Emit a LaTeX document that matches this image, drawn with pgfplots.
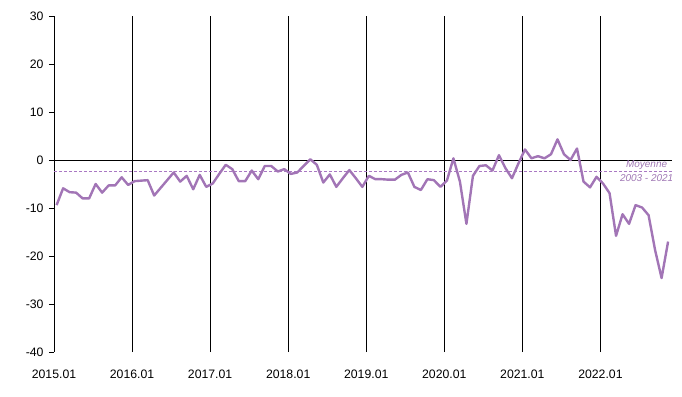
\documentclass[border=0pt]{standalone}
\usepackage{fontspec}
\setmainfont{Liberation Sans}
\usepackage{pgfplots}
\pgfplotsset{compat=1.18}
\definecolor{serie}{RGB}{162,117,182}
\definecolor{moy}{RGB}{160,120,180}
\definecolor{moyline}{RGB}{170,120,195}
\pgfplotstableread{
x y
0.4 -9.4
1.4 -5.9
2.4 -6.7
3.4 -6.8
4.4 -8.0
5.4 -8.0
6.4 -5.0
7.4 -6.8
8.4 -5.3
9.4 -5.3
10.4 -3.6
11.4 -5.2
12.4 -4.4
13.4 -4.3
14.4 -4.2
15.4 -7.4
16.4 -5.8
17.4 -4.2
18.4 -2.6
19.4 -4.5
20.4 -3.3
21.4 -6.1
22.4 -3.1
23.4 -5.6
24.4 -4.9
25.4 -2.9
26.4 -1.0
27.4 -1.9
28.4 -4.4
29.4 -4.4
30.4 -2.2
31.4 -4.0
32.4 -1.25
33.4 -1.25
34.4 -2.4
35.4 -1.9
36.4 -2.9
37.4 -2.6
38.4 -1.2
39.4 0.15
40.4 -1.0
41.4 -4.7
42.4 -3.0
43.4 -5.6
44.4 -3.8
45.4 -2.1
46.4 -3.8
47.4 -5.6
48.4 -3.3
49.4 -4.0
50.4 -4.0
51.4 -4.1
52.4 -4.1
53.4 -3.1
54.4 -2.6
55.4 -5.6
56.4 -6.25
57.4 -4.0
58.4 -4.2
59.4 -5.6
60.4 -4.3
61.4 0.35
62.4 -4.5
63.4 -13.3
64.4 -3.3
65.4 -1.25
66.4 -1.1
67.4 -2.2
68.4 1.0
69.4 -1.7
70.4 -3.8
71.4 -0.7
72.4 2.2
73.4 0.35
74.4 0.8
75.4 0.35
76.4 1.2
77.4 4.3
78.4 1.2
79.4 0.0
80.4 2.4
81.4 -4.5
82.4 -5.7
83.4 -3.5
84.4 -4.9
85.4 -6.9
86.4 -15.8
87.4 -11.3
88.4 -13.3
89.4 -9.4
90.4 -9.9
91.4 -11.5
92.4 -18.75
93.4 -24.6
94.4 -17.0
}\datatable
\begin{document}
\begin{tikzpicture}
\begin{axis}[
  at={(0,0)}, anchor=south west,
  scale only axis, width=618bp, height=336bp,
  xmin=0, xmax=95, ymin=-40, ymax=30,
  axis line style={draw=none},
  ytick={-40,-30,...,30},
  ytick pos=left, tick align=outside,
  major tick length=5bp,
  ytick style={black, line width=0.75bp},
  xtick={0,12,24,36,48,60,72,84},
  xticklabels={2015.01,2016.01,2017.01,2018.01,2019.01,2020.01,2021.01,2022.01},
  xtick pos=bottom,
  xtick style={draw=none},
  xmajorgrids,
  grid style={black, line width=0.75bp},
  ticklabel style={font=\fontsize{12.3}{14}\selectfont, text=black},
  /pgf/number format/assume math mode=true,
  xticklabel style={yshift=-9bp},
  yticklabel style={xshift=-2bp},
]
\draw[black, line width=0.75bp] (axis cs:0,0) -- (axis cs:95,0);
\draw[moyline, line width=0.8bp, dash pattern=on 3bp off 2bp] (axis cs:0,-2.3) -- (axis cs:95,-2.3);
\addplot[serie, line width=2.4bp, line join=round, mark=none] table[x=x,y=y] {\datatable};
\node[text=moy, font=\fontsize{10}{12}\selectfont\itshape, inner sep=0pt] at (axis cs:91.1,-1.0) {Moyenne};
\node[text=moy, font=\fontsize{10}{12}\selectfont\itshape, inner sep=0pt] at (axis cs:91.1,-3.8) {2003 - 2021};
\end{axis}
\path[use as bounding box] (-54bp,-45bp) rectangle (628bp,352bp);
\end{tikzpicture}
\end{document}
